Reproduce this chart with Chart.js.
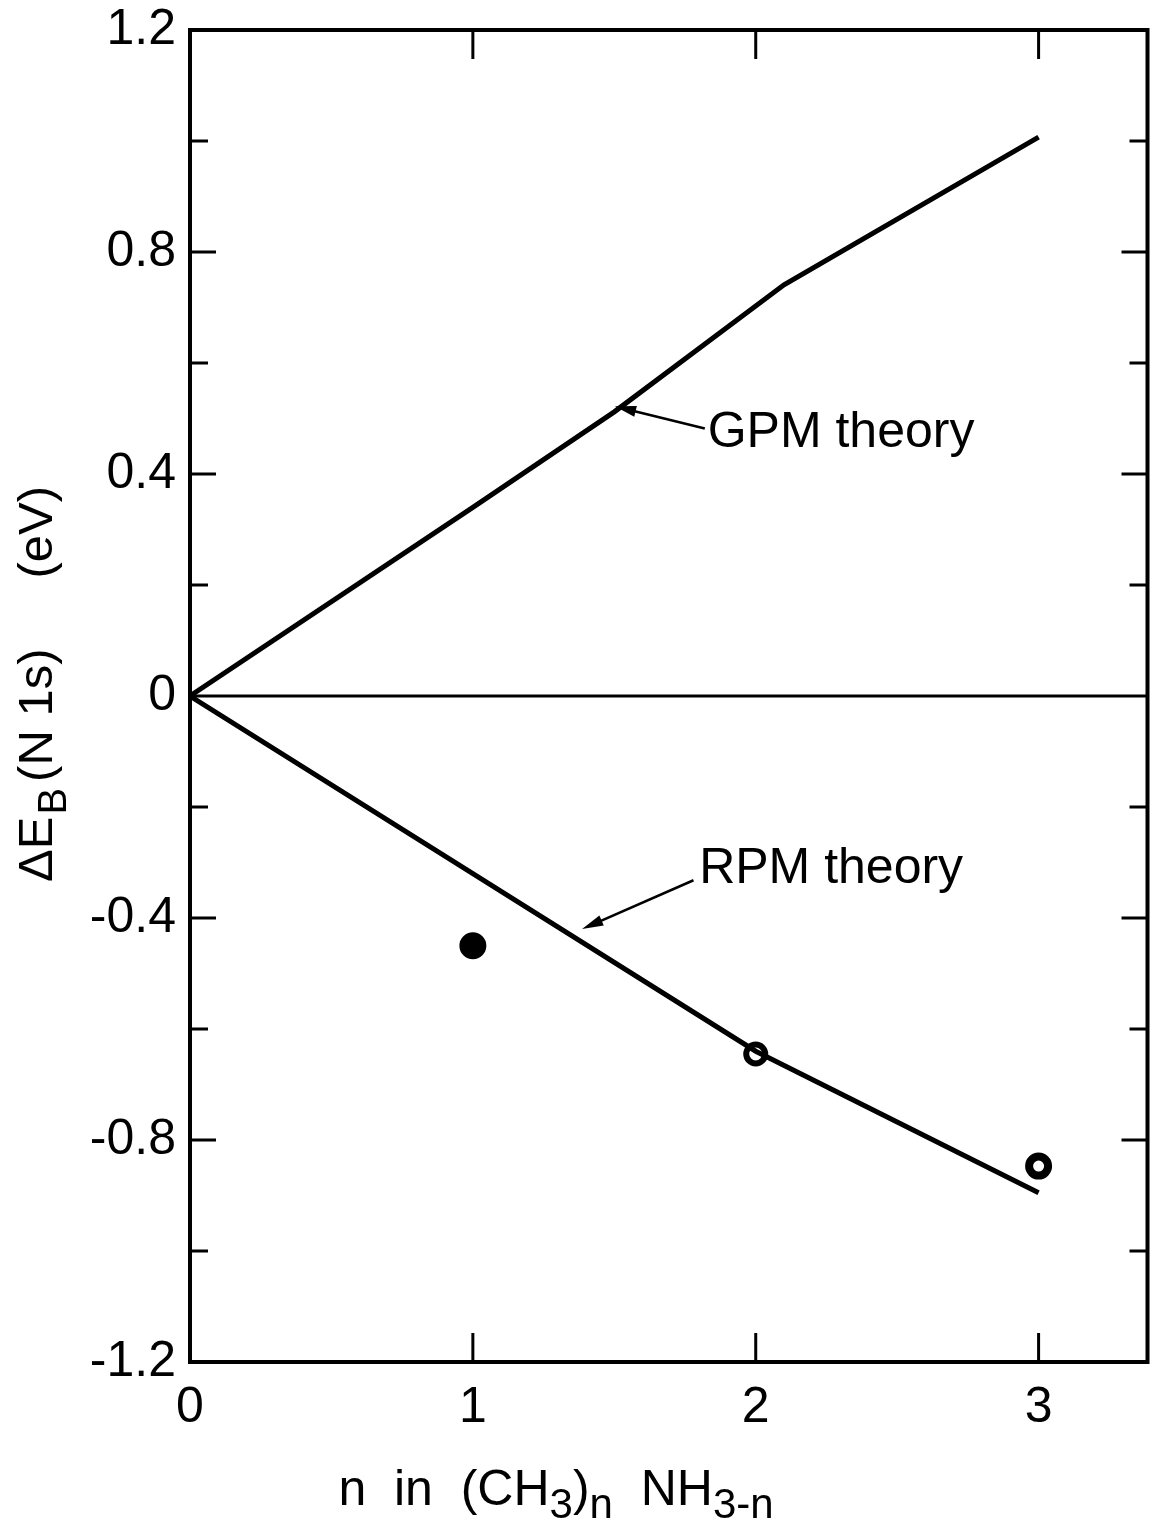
<!DOCTYPE html>
<html>
<head>
<meta charset="utf-8">
<script src="https://cdn.jsdelivr.net/npm/chart.js@4.4.1/dist/chart.umd.min.js"></script>
<style>
  html, body { margin: 0; padding: 0; background: #fff; overflow: hidden; }
  canvas { display: block; }
</style>
</head>
<body>
<canvas id="chart" width="1165" height="1523"></canvas>
<script>
// data
var gpmN = [0, 1, 1.5, 2.1, 3];
var gpmE = [0, 0.34, 0.512, 0.741, 1.007];
var rpmN = [0, 1, 2, 3];
var rpmE = [0, -0.32, -0.64, -0.895];
var expN = [1, 2, 3];
var expE = [-0.45, -0.645, -0.847];
var xTicks = [0, 1, 2, 3];
var yLabels = [-1.2, -0.8, -0.4, 0, 0.4, 0.8, 1.2];
var yMinor = [-1.0, -0.6, -0.2, 0.2, 0.6, 1.0];

var FONT = '"Liberation Sans", Arial, sans-serif';

function pts(xs, ys) {
    return xs.map(function (x, i) { return {x: x, y: ys[i]}; });
}

function arrow(ctx, x1, y1, x2, y2) {
    // line from (x1,y1) with head at (x2,y2)
    var a = Math.atan2(y2 - y1, x2 - x1);
    ctx.beginPath();
    ctx.moveTo(x1, y1);
    ctx.lineTo(x2 - 10 * Math.cos(a), y2 - 10 * Math.sin(a));
    ctx.lineWidth = 2.5;
    ctx.stroke();
    ctx.beginPath();
    ctx.moveTo(x2, y2);
    ctx.lineTo(x2 - 22 * Math.cos(a - 0.25), y2 - 22 * Math.sin(a - 0.25));
    ctx.lineTo(x2 - 22 * Math.cos(a + 0.25), y2 - 22 * Math.sin(a + 0.25));
    ctx.closePath();
    ctx.fill();
}

// labels with arrows, in data units
var notes = [
    {text: 'GPM theory', x: 1.83, y: 0.474, fromX: 1.82, fromY: 0.482, toX: 1.502, toY: 0.522},
    {text: 'RPM theory', x: 1.80, y: -0.313, fromX: 1.78, fromY: -0.332, toX: 1.386, toY: -0.420}
];

var framePlugin = {
    id: 'frame',
    afterDatasetsDraw: function (chart) {
        var ctx = chart.ctx, a = chart.chartArea;
        var xs = chart.scales.x, ys = chart.scales.y;
        ctx.save();
        ctx.strokeStyle = '#000';
        ctx.fillStyle = '#000';
        // zero line
        ctx.lineWidth = 3;
        ctx.beginPath();
        ctx.moveTo(a.left, ys.getPixelForValue(0));
        ctx.lineTo(a.right, ys.getPixelForValue(0));
        ctx.stroke();
        // frame
        ctx.lineWidth = 4;
        ctx.strokeRect(a.left, a.top, a.right - a.left, a.bottom - a.top);
        // inward ticks
        ctx.lineWidth = 3;
        ctx.beginPath();
        yLabels.concat(yMinor).forEach(function (v) {
            if (v === 0 || Math.abs(v) === 1.2) return;
            var len = yLabels.indexOf(v) >= 0 ? 26 : 18;
            var py = ys.getPixelForValue(v);
            ctx.moveTo(a.left, py); ctx.lineTo(a.left + len, py);
            ctx.moveTo(a.right, py); ctx.lineTo(a.right - len, py);
        });
        xTicks.forEach(function (v) {
            if (v === 0) return;
            var px = xs.getPixelForValue(v);
            ctx.moveTo(px, a.top); ctx.lineTo(px, a.top + 29);
            ctx.moveTo(px, a.bottom); ctx.lineTo(px, a.bottom - 29);
        });
        ctx.stroke();
        // notes
        ctx.font = '50px ' + FONT;
        ctx.textBaseline = 'middle';
        ctx.textAlign = 'left';
        notes.forEach(function (n) {
            ctx.fillText(n.text, xs.getPixelForValue(n.x), ys.getPixelForValue(n.y));
            arrow(ctx, xs.getPixelForValue(n.fromX), ys.getPixelForValue(n.fromY),
                  xs.getPixelForValue(n.toX), ys.getPixelForValue(n.toY));
        });
        ctx.restore();
    },
    afterDraw: function (chart) {
        var ctx = chart.ctx;
        ctx.save();
        ctx.fillStyle = '#000';
        ctx.textBaseline = 'alphabetic';
        ctx.textAlign = 'left';
        // y title, rotated
        ctx.translate(52, 882);
        ctx.rotate(-Math.PI / 2);
        var u = 0;
        ctx.font = '49px ' + FONT;
        ctx.fillText('\u0394E', u, 0);
        u += ctx.measureText('\u0394E').width;
        ctx.font = '40px ' + FONT;
        ctx.fillText('B', u + 2, 14);
        u += ctx.measureText('B').width + 8;
        ctx.font = '49px ' + FONT;
        ctx.fillText('(N 1s)', u, 0);
        u += ctx.measureText('(N 1s)').width + 70;
        ctx.fillText('(eV)', u, 0);
        ctx.restore();

        // x title with subscripts
        ctx.save();
        ctx.fillStyle = '#000';
        ctx.textBaseline = 'alphabetic';
        var parts = [
            {t: 'n  in  (CH', sub: false},
            {t: '3', sub: true},
            {t: ')', sub: false},
            {t: 'n', sub: true},
            {t: '  NH', sub: false},
            {t: '3-n', sub: true}
        ];
        var total = 0;
        parts.forEach(function (p) {
            ctx.font = (p.sub ? '42px ' : '50px ') + FONT;
            p.w = ctx.measureText(p.t).width;
            total += p.w;
        });
        var x = 556 - total / 2, base = 1505;
        parts.forEach(function (p) {
            ctx.font = (p.sub ? '42px ' : '50px ') + FONT;
            ctx.fillText(p.t, x, base + (p.sub ? 13 : 0));
            x += p.w;
        });
        ctx.restore();
    }
};

new Chart(document.getElementById('chart').getContext('2d'), {
    type: 'scatter',
    data: {
        datasets: [{
            label: 'GPM theory',
            data: pts(gpmN, gpmE),
            showLine: true,
            borderColor: '#000',
            borderWidth: 5,
            pointRadius: 0
        }, {
            label: 'RPM theory',
            data: pts(rpmN, rpmE),
            showLine: true,
            borderColor: '#000',
            borderWidth: 5,
            pointRadius: 0
        }, {
            label: 'experiment',
            data: pts(expN, expE),
            showLine: false,
            pointRadius: [9.5, 9.5, 9.5],
            pointBorderWidth: [8, 6, 8],
            pointBackgroundColor: ['#000', '#fff', '#fff'],
            pointBorderColor: '#000'
        }]
    },
    options: {
        responsive: false,
        animation: false,
        layout: {padding: {top: 30, right: 7, left: 0, bottom: 0}},
        plugins: {legend: {display: false}, tooltip: {enabled: false}},
        scales: {
            x: {
                type: 'linear',
                min: 0,
                max: 3.385,
                afterFit: function (s) {
                    s.height = 161;
                    s.paddingLeft = 0;
                    s.paddingRight = 0;
                },
                afterBuildTicks: function (s) {
                    s.ticks = xTicks.map(function (v) { return {value: v}; });
                },
                grid: {display: false, drawTicks: false},
                border: {display: false},
                ticks: {
                    color: '#000',
                    padding: 16,
                    maxRotation: 0,
                    autoSkip: false,
                    font: {family: FONT, size: 50},
                    callback: function (v) { return String(v); }
                }
            },
            y: {
                type: 'linear',
                min: -1.2,
                max: 1.2,
                afterFit: function (s) {
                    s.width = 190;
                    s.paddingTop = 0;
                    s.paddingBottom = 0;
                },
                afterBuildTicks: function (s) {
                    s.ticks = yLabels.map(function (v) { return {value: v}; });
                },
                grid: {display: false, drawTicks: false},
                border: {display: false},
                ticks: {
                    color: '#000',
                    padding: 14,
                    autoSkip: false,
                    font: {family: FONT, size: 50},
                    callback: function (v) { return String(Math.round(v * 10) / 10); }
                }
            }
        }
    },
    plugins: [framePlugin]
});
</script>
</body>
</html>
